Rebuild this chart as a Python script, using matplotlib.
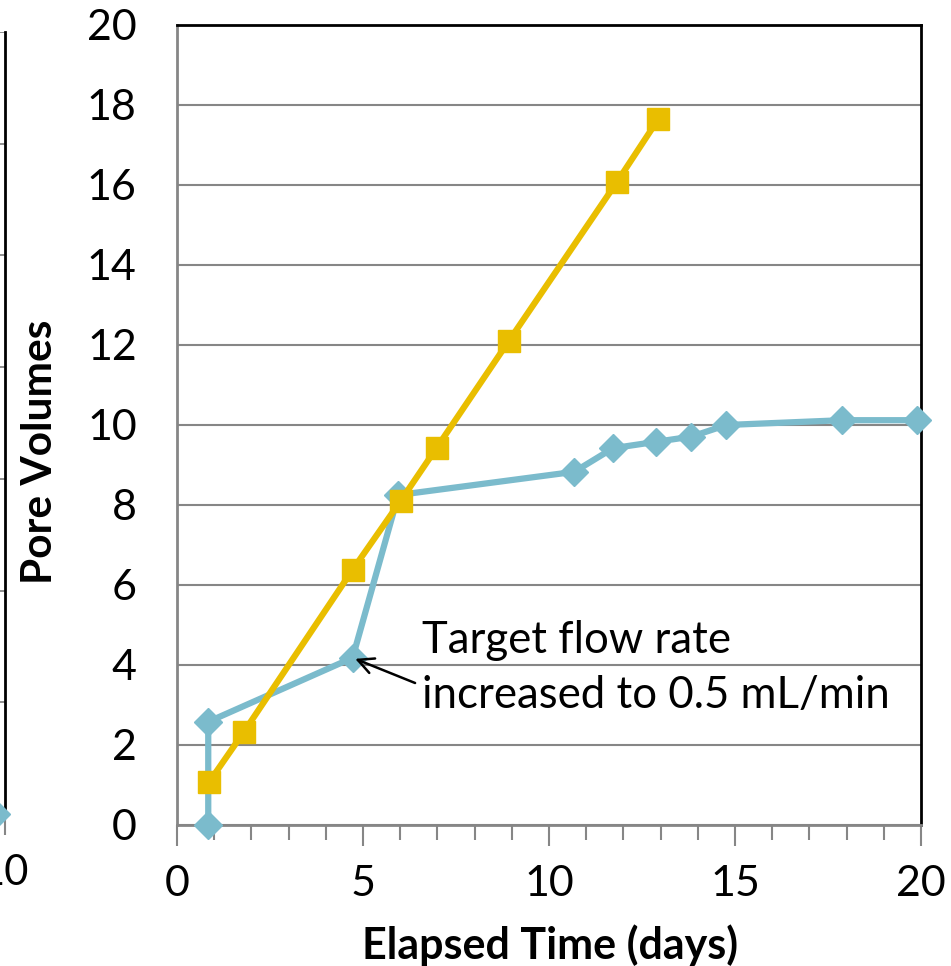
import matplotlib
matplotlib.use("Agg")
import matplotlib.pyplot as plt
from matplotlib.ticker import MultipleLocator

plt.rcParams['font.family'] = ['Lato', 'DejaVu Sans']

# ---- data ----
blue_days = [0.84, 0.84, 4.72, 5.95, 10.68, 11.72, 12.88, 13.83, 14.77, 17.88, 19.88]
blue_pv = [0.0, 2.58, 4.18, 8.25, 8.83, 9.42, 9.58, 9.71, 10.0, 10.12, 10.12]
yellow_days = [0.86, 1.80, 4.72, 6.01, 6.98, 8.92, 11.83, 12.94]
yellow_pv = [1.07, 2.33, 6.38, 8.10, 9.43, 12.1, 16.08, 17.65]
x_ticks = [0, 5, 10, 15, 20]
y_ticks = [0, 2, 4, 6, 8, 10, 12, 14, 16, 18, 20]
note = "Target flow rate\nincreased to 0.5 mL/min"
note_point = (4.72, 4.18)
# neighbouring chart fragment on the left edge
left_x = [9.87]
left_y = [0]
left_ticks = [10]

BLUE = '#7BBBCC'
YELLOW = '#E9BE00'
GRID = '#868686'

W, H = 951, 966
fig = plt.figure(figsize=(W / 100, H / 100), dpi=100)

def fx(px):
    return px / W

def fy(py):
    return 1 - py / H

# ---- left fragment ----
axl = fig.add_axes([fx(-700), fy(814), fx(705), fy(32) - fy(814)])
axl.set_xlim(0, 10)
axl.set_ylim(0, 7)
axl.set_yticks(range(8))
axl.yaxis.grid(True, color=GRID, lw=1.3)
axl.tick_params(axis='y', length=0, labelleft=False)
axl.set_xticks(left_ticks)
axl.set_xticklabels([str(t) for t in left_ticks])
axl.tick_params(axis='x', length=15, width=1.5, color=GRID, labelsize=30, pad=14)
for s in ['top', 'left']:
    axl.spines[s].set_visible(False)
axl.spines['right'].set_color('black')
axl.spines['right'].set_linewidth(2)
axl.spines['bottom'].set_color(GRID)
axl.plot(left_x, left_y, marker='D', color=BLUE, ms=14, lw=4.2, clip_on=False, zorder=5)

# ---- main chart ----
ax = fig.add_axes([fx(177), fy(825), fx(921) - fx(177), fy(25) - fy(825)])
ax.set_xlim(0, 20)
ax.set_ylim(0, 20)
ax.set_yticks(y_ticks)
ax.set_xticks(x_ticks)
ax.xaxis.set_minor_locator(MultipleLocator(1))
ax.yaxis.grid(True, color=GRID, lw=1.5)
ax.set_axisbelow(True)
ax.tick_params(axis='y', length=0, labelsize=31, pad=29)
ax.tick_params(axis='x', which='major', length=15, width=1.5, color=GRID, labelsize=31, pad=14)
ax.tick_params(axis='x', which='minor', length=11, width=1.5, color=GRID)
ax.spines['left'].set_color(GRID)
ax.spines['bottom'].set_color(GRID)
ax.spines['left'].set_linewidth(2)
ax.spines['bottom'].set_linewidth(2)
ax.spines['top'].set_color('black')
ax.spines['right'].set_color('black')
ax.spines['top'].set_linewidth(2)
ax.spines['right'].set_linewidth(2)

ax.plot(blue_days, blue_pv, marker='D', color=BLUE, ms=14, lw=4.5, clip_on=False, zorder=3)
ax.plot(yellow_days, yellow_pv, marker='s', color=YELLOW, ms=15.5, lw=4.5, clip_on=False, zorder=4)

ax.annotate('', xy=note_point, xytext=(6.40, 3.55),
            arrowprops=dict(arrowstyle='->', color='black', lw=1.8, mutation_scale=28,
                            shrinkA=0, shrinkB=2))
ax.text(6.59, 3.93, note, fontsize=31.5, ha='left', va='center', linespacing=1.42)

fig.text(fx(550), fy(945), 'Elapsed Time (days)', fontsize=31, fontweight='bold',
         ha='center', va='center')
fig.text(fx(40), fy(452), 'Pore Volumes', fontsize=30.5, fontweight='bold',
         ha='center', va='center', rotation=90)

fig.savefig('out.png', dpi=100)
